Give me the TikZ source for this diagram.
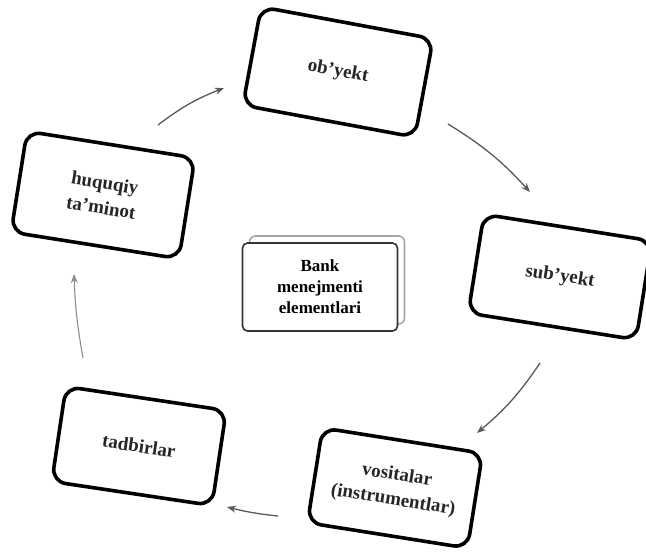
\documentclass[tikz,border=0pt]{standalone}
\usepackage{fontspec}
\setmainfont{Liberation Serif}
\usetikzlibrary{arrows.meta}
\begin{document}
\begin{tikzpicture}[x=1pt,y=-1pt,
  elem/.style={draw=black, line width=3.6pt, rounded corners=14pt, fill=white,
    align=center, inner sep=0pt, text=black!85,
    font=\fontsize{19}{25}\selectfont\bfseries},
  core/.style={draw=black!80, line width=1.6pt, rounded corners=5pt, fill=white,
    align=center, inner sep=0pt, minimum width=155pt, minimum height=88pt,
    font=\fontsize{17}{21}\selectfont\bfseries},
  coreshadow/.style={draw=black!35, line width=1.6pt, rounded corners=6pt,
    minimum width=155pt, minimum height=88pt},
  flow/.style={draw=black!65, line width=1.3pt,
    -{Stealth[length=9pt,width=7pt]}},
]
\useasboundingbox[fill=white] (0,0) rectangle (646,560);

% the five elements, each a tilted rounded box
\node[elem, minimum width=175pt, minimum height=100pt, rotate=-10.5] (obj) at (338,72) {ob’yekt};
\node[elem, minimum width=170pt, minimum height=100pt, rotate=-9] (sub) at (560,277) {sub’yekt};
\node[elem, minimum width=162pt, minimum height=96pt, rotate=-9] (vos) at (395,488) {vositalar\\(instrumentlar)};
\node[elem, minimum width=162pt, minimum height=96pt, rotate=-8.5] (tad) at (139,446) {tadbirlar};
\node[elem, minimum width=170pt, minimum height=102pt, rotate=-9] (huq) at (103,195) {huquqiy\\ta’minot};

% central box with its offset outline
\node[coreshadow] (coresh) at (327,280) {};
\node[core] (core) at (320,287) {Bank\\menejmenti\\elementlari};

% arrow end points around the ring
\coordinate (a1s) at (158,125); \coordinate (a1e) at (224,88);
\coordinate (a2s) at (448,124); \coordinate (a2e) at (530,192);
\coordinate (a3s) at (540,363); \coordinate (a3e) at (477,433);
\coordinate (a4s) at (278,516); \coordinate (a4e) at (227,507);
\coordinate (a5s) at (83,358);  \coordinate (a5e) at (74,274);

\draw[flow] (a1s) to[bend left=8] (a1e);
\draw[flow] (a2s) to[bend left=8] (a2e);
\draw[flow] (a3s) to[bend left=8] (a3e);
\draw[flow] (a4s) to[bend left=4] (a4e);
\draw[flow, draw=black!45, line width=1.1pt] (a5s) to[bend left=4] (a5e);
\end{tikzpicture}
\end{document}
